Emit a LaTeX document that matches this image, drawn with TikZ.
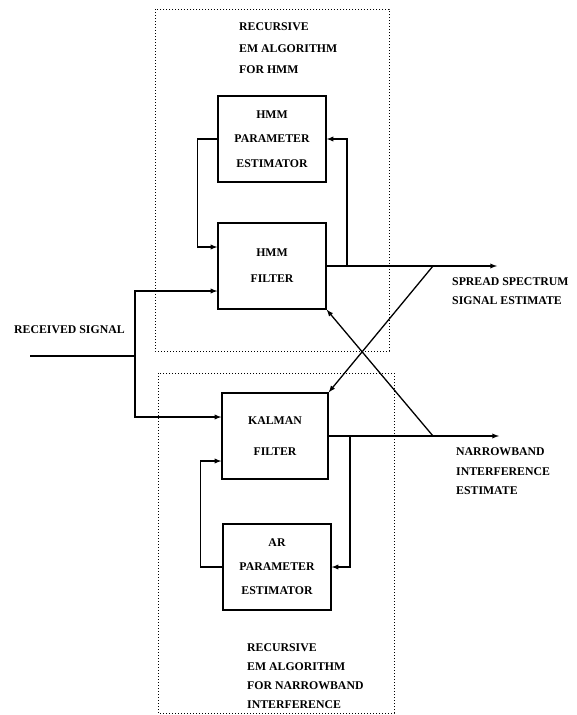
\documentclass[tikz,border=0pt]{standalone}
\usepackage{fontspec}
\setmainfont{Liberation Serif}
\usepackage{tikz}
\usetikzlibrary{arrows}

\tikzset{
  blk/.style={draw, line width=1.3pt, minimum width=108pt, minimum height=86pt,
    inner sep=0pt, align=center, font=\bfseries\fontsize{11.8}{24.5}\selectfont},
  lbl/.style={inner sep=0pt, align=left, font=\bfseries\fontsize{11.8}{19}\selectfont},
  frame/.style={line width=1pt, dash pattern=on 1pt off 2pt},
  wire/.style={line width=1.3pt},
}

\begin{document}
\begin{tikzpicture}[x=1pt, y=-1pt, >=latex]%[scale=.9]
    \useasboundingbox (0,0) rectangle (576,715);
    \draw[frame] (155,9) rectangle (389,351);
    \draw[frame] (158,373) rectangle (394,713);

    \node[blk] (hmmpar) at (272,139) {HMM\\PARAMETER\\ESTIMATOR};
    \node[blk, font=\bfseries\fontsize{11.8}{26}\selectfont] (hmmfilt) at (272,266) {HMM\\FILTER};
    \node[blk, minimum width=106pt, font=\bfseries\fontsize{11.8}{31}\selectfont] (kalman) at (275,436) {KALMAN\\FILTER};
    \node[blk, font=\bfseries\fontsize{11.8}{24}\selectfont] (arpar) at (277,567) {AR\\PARAMETER\\ESTIMATOR};

    \node[lbl, anchor=north west, font=\bfseries\fontsize{11.8}{21.5}\selectfont] (emhmm) at (239,22.5) {RECURSIVE\\EM ALGORITHM\\FOR HMM};
    \node[lbl, anchor=north west] (emnb) at (247,643.5) {RECURSIVE\\EM ALGORITHM\\FOR NARROWBAND\\INTERFERENCE};
    \node[lbl, anchor=west] (rxlbl) at (14,330) {RECEIVED SIGNAL};
    \node[lbl, anchor=north west] (sslbl) at (452,277) {SPREAD SPECTRUM\\SIGNAL ESTIMATE};
    \node[lbl, anchor=north west, font=\bfseries\fontsize{11.8}{19.5}\selectfont] (nblbl) at (456,447.5) {NARROWBAND\\INTERFERENCE\\ESTIMATE};

    \coordinate (rxin) at (30,356);
    \coordinate (split) at (135,356);
    \coordinate (ssend) at (497,266);
    \coordinate (nbend) at (499,436);
    \coordinate (sstap) at (347,266);
    \coordinate (nbtap) at (350,436);
    \coordinate (sscross) at (433,266);
    \coordinate (nbcross) at (433,436);

    \draw[wire] (rxin) -- (split);
    \draw[wire,->] (split) |- ([yshift=-25pt]hmmfilt.west);
    \draw[wire,->] (split) |- ([yshift=19pt]kalman.west);

    \draw[wire,->] (hmmpar.west) -- ++(-20,0) |- ([yshift=19pt]hmmfilt.west);
    \draw[wire,->] (hmmfilt.east) -- (ssend);
    \draw[wire,->] (sstap) |- (hmmpar.east);

    \draw[wire,->] (kalman.east) -- (nbend);
    \draw[wire,->] (nbtap) |- (arpar.east);
    \draw[wire,->] (arpar.west) -- ++(-22,0) |- ([yshift=-25pt]kalman.west);

    \draw[wire,->] (sscross) -- (kalman.north east);
    \draw[wire,->] (nbcross) -- (hmmfilt.south east);
  \end{tikzpicture}
\end{document}
